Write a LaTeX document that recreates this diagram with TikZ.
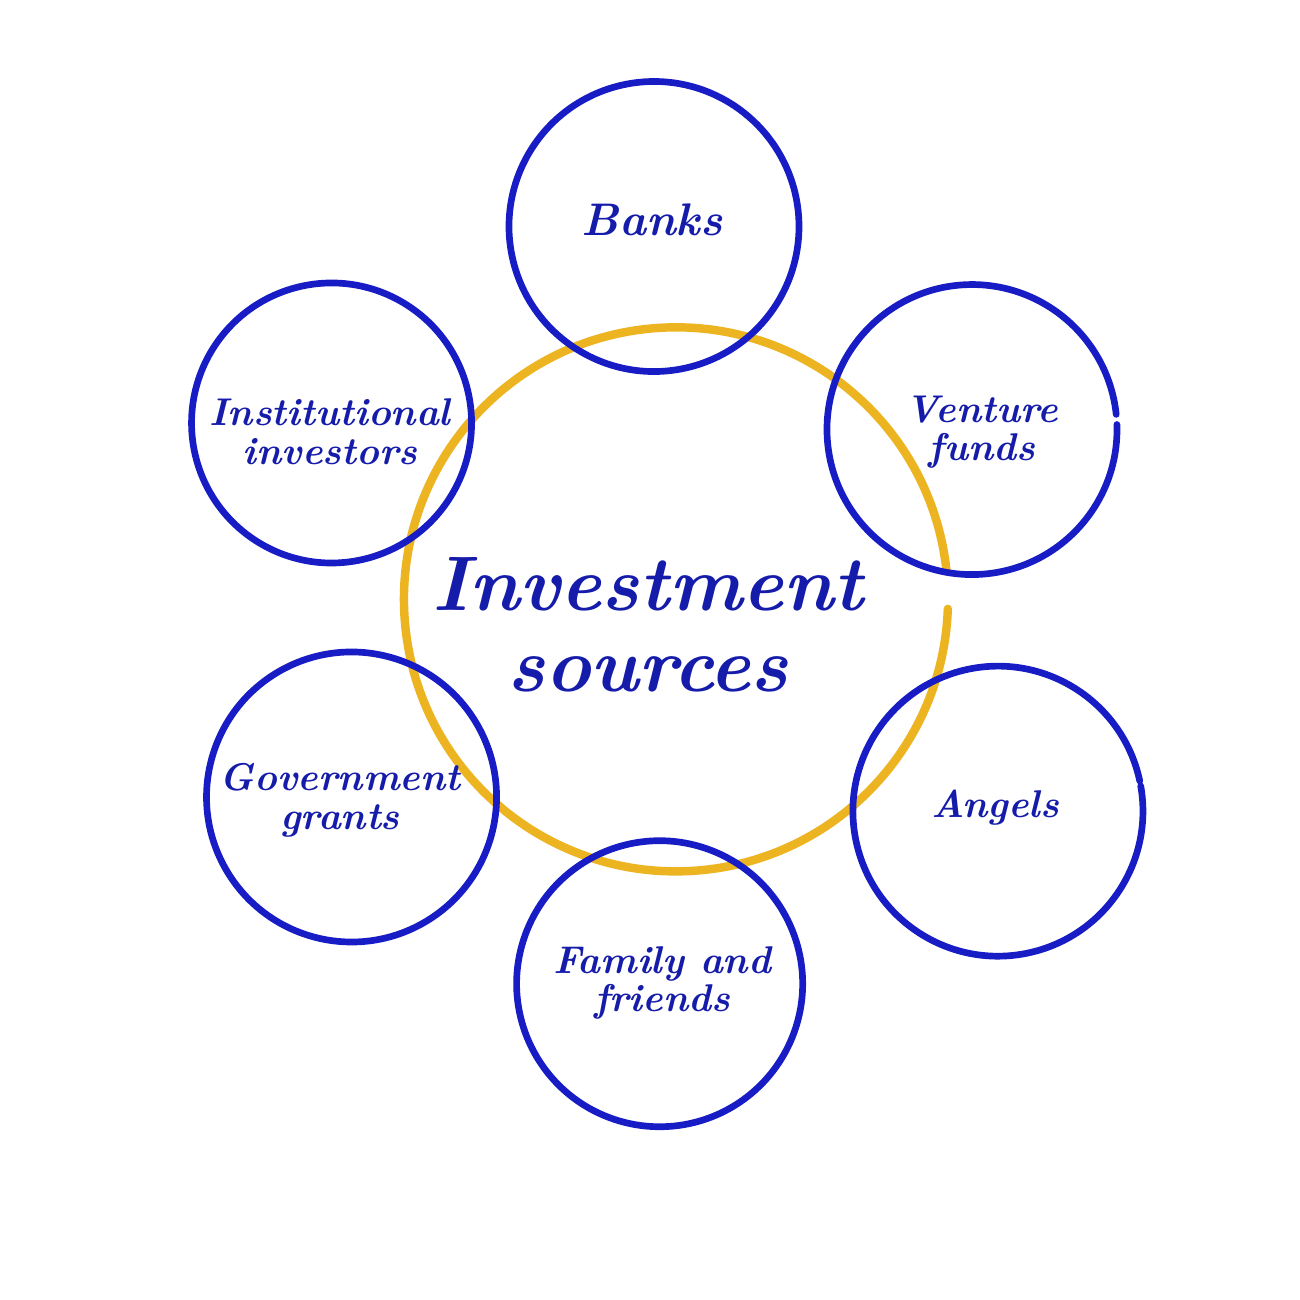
\documentclass[tikz,border=0pt]{standalone}
\usepackage{tikz}
\definecolor{inkblue}{RGB}{24,28,196}
\definecolor{textblue}{RGB}{22,28,170}
\definecolor{hubyellow}{RGB}{236,180,32}
\tikzset{
  ring/.style={draw=inkblue,line width=1.9pt,line cap=round},
  hubring/.style={draw=hubyellow,line width=2.4pt,line cap=round},
  label/.style={text=textblue,font=\fontsize{11}{11}\selectfont\itshape\bfseries,align=center},
  hublabel/.style={text=textblue,font=\fontsize{22}{23}\selectfont\itshape\bfseries,align=center}
}
\begin{document}
\begin{tikzpicture}
  \useasboundingbox (0,0) rectangle (13,13);
  \fill[white] (0,0) rectangle (13,13);
  % ring centres
  \coordinate (H) at (6.70,7.00);
  \coordinate (Bk) at (6.52,10.70);
  \coordinate (VF) at (9.68,8.70);
  \coordinate (An) at (9.94,4.88);
  \coordinate (FF) at (6.61,3.20);
  \coordinate (GG) at (3.55,5.05);
  \coordinate (II) at (3.35,8.75);
  % rings
  \draw[hubring] (H) ++(6:2.78) arc[start angle=6, delta angle=352, radius=2.72];
  \draw[ring] (Bk) ++(60:1.49) arc[start angle=60, delta angle=368, radius=1.45];
  \draw[ring] (VF) ++(6:1.49) arc[start angle=6, delta angle=356, radius=1.45];
  \draw[ring] (An) ++(12:1.49) arc[start angle=12, delta angle=358, radius=1.45];
  \draw[ring] (FF) ++(250:1.47) arc[start angle=250, delta angle=-365, radius=1.43];
  \draw[ring] (GG) ++(210:1.49) arc[start angle=210, delta angle=360, radius=1.45];
  \draw[ring] (II) ++(150:1.44) arc[start angle=150, delta angle=-362, radius=1.40];
  % texts
  \node[hublabel] (hub) at (6.48,6.75) {Investment\\sources};
  \node[label,font=\fontsize{13}{13}\selectfont\itshape\bfseries] (banks) at (6.52,10.80) {Banks};
  \node[label] (venture) at (9.82,8.68) {Venture\\funds};
  \node[label] (angels) at (9.95,4.92) {Angels};
  \node[label] (family) at (6.62,3.17) {Family and\\friends};
  \node[label] (gov) at (3.40,5.00) {Government\\grants};
  \node[label] (inst) at (3.30,8.68) {Institutional\\investors};
\end{tikzpicture}
\end{document}
